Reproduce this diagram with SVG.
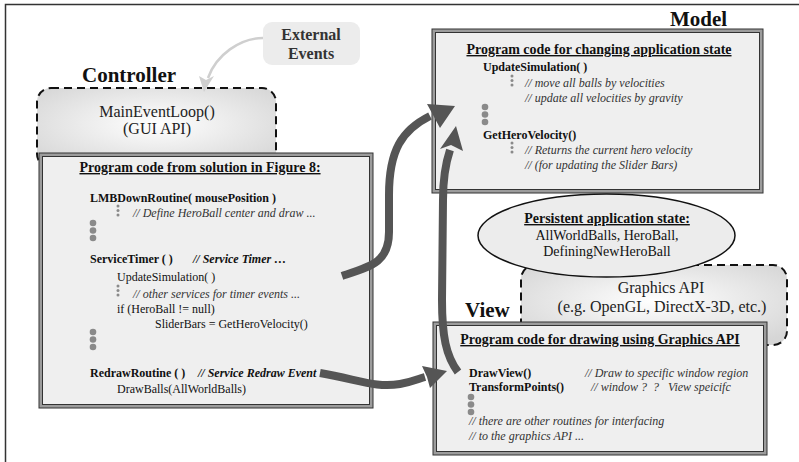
<svg xmlns="http://www.w3.org/2000/svg" width="799" height="462" viewBox="0 0 799 462" font-family="'Liberation Serif', 'Times New Roman', serif">
<style>
text{font-family:"Liberation Serif","Times New Roman",serif;fill:#111}
.h{font-size:21px;font-weight:bold}
.t{font-size:14px;font-weight:bold;text-decoration:underline}
.b{font-size:12px;font-weight:bold}
.r{font-size:12px}
.i{font-size:12px;font-style:italic;fill:#333}
.bi{font-size:12px;font-style:italic;font-weight:bold}
.api{font-size:16px;fill:#222}
.outer{fill:#9c9c9c;stroke:#333;stroke-width:1}
.inner{fill:#efefef;stroke:#333;stroke-width:1}
.dash{stroke:#111;stroke-width:2;stroke-dasharray:8 5}
.big{fill:#8a8a8a}
.sm{fill:#8a8a8a}
.conn{fill:none;stroke:#555;stroke-width:8}
.head{fill:#555}
</style>
<defs>
<radialGradient id="g1" cx="50%" cy="45%" r="65%">
<stop offset="0" stop-color="#ffffff"/>
<stop offset="1" stop-color="#d6d6d6"/>
</radialGradient>
<g id="sdots"><circle cx="0" cy="0" r="1.5"/><circle cx="0" cy="4.5" r="1.5"/><circle cx="0" cy="9" r="1.5"/></g>
<g id="bdots"><circle cx="0" cy="0" r="3.3"/><circle cx="0" cy="7.5" r="3.3"/><circle cx="0" cy="15" r="3.3"/></g>
</defs>
<rect width="799" height="462" fill="#fff"/>
<path d="M5.5,462 V4.5 H799" fill="none" stroke="#333" stroke-width="1.5"/>

<g id="external-events">
<rect x="263" y="22" width="97" height="43" rx="9" fill="#ececec"/>
<text x="311" y="40" text-anchor="middle" style="font-size:16px;font-weight:bold;fill:#333">External</text>
<text x="311" y="59" text-anchor="middle" style="font-size:16px;font-weight:bold;fill:#333">Events</text>
</g>

<g id="controller">
<text class="h" x="82" y="82">Controller</text>
<rect x="37" y="88" width="239" height="80" rx="14" fill="url(#g1)" class="dash"/>
<text x="157" y="117" text-anchor="middle" class="api">MainEventLoop()</text>
<text x="157" y="134" text-anchor="middle" class="api">(GUI API)</text>
</g>

<g id="controller-code">
<rect x="39" y="153" width="334" height="255" class="outer"/>
<rect x="42.5" y="156.5" width="327" height="248" class="inner"/>
<text class="t" x="200" y="172" text-anchor="middle">Program code from solution in Figure 8:</text>
<text class="b" x="90" y="202">LMBDownRoutine( mousePosition )</text>
<use href="#sdots" x="118" y="206" class="sm"/>
<text class="i" x="133" y="217">// Define HeroBall center and draw ...</text>
<use href="#bdots" x="93" y="223" class="big"/>
<text class="b" x="90" y="263">ServiceTimer ( )</text>
<text class="bi" x="193" y="263">// Service Timer …</text>
<text class="r" x="117" y="281">UpdateSimulation( )</text>
<use href="#sdots" x="118" y="286" class="sm"/>
<text class="i" x="133" y="298">// other services for timer events ...</text>
<text class="r" x="117" y="313">if (HeroBall != null)</text>
<text class="r" x="155" y="328">SliderBars = GetHeroVelocity()</text>
<use href="#bdots" x="93" y="332" class="big"/>
<text class="b" x="90" y="377">RedrawRoutine ( )</text>
<text class="bi" x="198" y="377">// Service Redraw Event</text>
<text class="r" x="117" y="393">DrawBalls(AllWorldBalls)</text>
</g>

<g id="model">
<text class="h" x="670" y="26">Model</text>
<rect x="432" y="29" width="331" height="164" class="outer"/>
<rect x="435.5" y="32.5" width="324" height="157" class="inner"/>
<text class="t" x="599" y="54" text-anchor="middle">Program code for changing application state</text>
<text class="b" x="483" y="71">UpdateSimulation( )</text>
<use href="#sdots" x="512" y="76" class="sm"/>
<text class="i" x="525" y="87">// move all balls by velocities</text>
<text class="i" x="525" y="102">// update all velocities by gravity</text>
<use href="#bdots" x="485" y="107" class="big"/>
<text class="b" x="483" y="139">GetHeroVelocity()</text>
<use href="#sdots" x="512" y="143" class="sm"/>
<text class="i" x="525" y="154">// Returns the current hero velocity</text>
<text class="i" x="525" y="169">// (for updating the Slider Bars)</text>
</g>

<g id="graphics-api">
<rect x="521" y="265" width="266" height="80" rx="14" fill="url(#g1)" class="dash"/>
<text x="661" y="293" text-anchor="middle" class="api">Graphics API</text>
<text x="662" y="312" text-anchor="middle" class="api">(e.g. OpenGL, DirectX-3D, etc.)</text>
</g>

<g id="state">
<ellipse cx="606.5" cy="235.5" rx="128.5" ry="41.5" fill="#ececec" stroke="#111" stroke-width="1.5"/>
<text class="t" x="607" y="223" text-anchor="middle">Persistent application state:</text>
<text x="607" y="240" text-anchor="middle" style="font-size:14px">AllWorldBalls, HeroBall,</text>
<text x="607" y="256" text-anchor="middle" style="font-size:14px">DefiningNewHeroBall</text>
</g>

<g id="view">
<text class="h" x="465" y="317">View</text>
<rect x="433" y="322" width="334" height="133" class="outer"/>
<rect x="436.5" y="325.5" width="327" height="126" class="inner"/>
<text class="t" x="600" y="344" text-anchor="middle">Program code for drawing using Graphics API</text>
<text class="b" x="469" y="377">DrawView()</text>
<text class="i" x="585" y="377">// Draw to specific window region</text>
<text class="b" x="469" y="391">TransformPoints()</text>
<text class="i" x="591" y="391" xml:space="preserve">// window ?  ?   View speicifc</text>
<use href="#bdots" x="471" y="397" class="big"/>
<text class="i" x="469" y="425">// there are other routines for interfacing</text>
<text class="i" x="469" y="440">// to the graphics API ...</text>
</g>

<g id="connectors">
<path d="M263,38 C240,38 216,55 208,78" fill="none" stroke="#cfcfcf" stroke-width="2.5"/>
<polygon points="204,92 199,76 206,80 214,76" fill="#cfcfcf"/>
<path class="conn" d="M342,276 C372,266 389,262 389,232 L389,195 C389,150 402,130 430,116"/>
<polygon class="head" points="455,106 427,104 433,115 440,128"/>
<path class="conn" d="M458,372 C446,356 442,336 442,300 L443,200 C443,176 446,162 450,150"/>
<polygon class="head" points="456,126 440,149 451,145 463,151"/>
<path class="conn" d="M320,373 C360,380 376,388 400,384 C412,382 418,379 425,377"/>
<polygon class="head" points="447,371 422,366 427,377 430,388"/>
</g>
</svg>
